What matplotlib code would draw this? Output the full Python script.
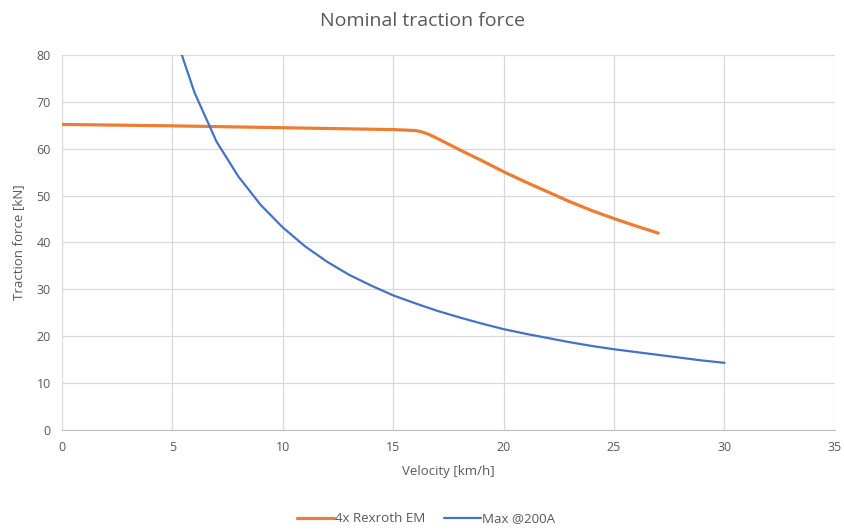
import numpy as np
import matplotlib
matplotlib.use('Agg')
import matplotlib.pyplot as plt

plt.rcParams['font.family'] = ['Open Sans', 'DejaVu Sans']

# 4x Rexroth EM (orange)
v_rexroth = [0, 5, 10, 15, 15.5, 16, 16.3, 16.6, 17, 18, 19, 20, 21, 22, 23, 24, 25, 26, 27]
f_rexroth = [65.2, 64.9, 64.5, 64.1, 64.0, 63.9, 63.6, 63.1, 62.2, 59.8, 57.5, 55.1,
             52.9, 50.8, 48.7, 46.8, 45.1, 43.5, 42.0]

# Max @200A (blue)
v_max = [5, 6, 7, 8, 9, 10, 11, 12, 13, 14, 15, 16, 17, 18, 19, 20, 21, 22, 23, 24,
         25, 26, 27, 28, 29, 30]
f_max = [86, 72, 61.5, 54, 48, 43.2, 39.2, 35.9, 33.1, 30.8, 28.7, 27.0, 25.4, 24.0,
         22.7, 21.5, 20.5, 19.6, 18.7, 17.9, 17.2, 16.6, 16.0, 15.4, 14.8, 14.3]

x_ticks = [0, 5, 10, 15, 20, 25, 30, 35]
y_ticks = [0, 10, 20, 30, 40, 50, 60, 70, 80]

txt = '#595959'

fig = plt.figure(figsize=(8.45, 5.3), dpi=100)
ax = fig.add_axes([0.0734, 0.189, 0.9146, 0.707])

ax.plot(v_rexroth, f_rexroth, color='#ED7D31', lw=2.3, label='4x Rexroth EM',
        solid_capstyle='round', solid_joinstyle='round')
ax.plot(v_max, f_max, color='#4472C4', lw=1.6, label='Max @200A',
        solid_capstyle='round', solid_joinstyle='round')

ax.set_xlim(0, 35)
ax.set_ylim(0, 80)
ax.set_xticks(x_ticks)
ax.set_yticks(y_ticks)
ax.grid(True, color='#d9d9d9', lw=0.9)
ax.set_axisbelow(True)
for s in ['top', 'right', 'left']:
    ax.spines[s].set_visible(False)
ax.spines['bottom'].set_color('#bfbfbf')
ax.tick_params(length=0, labelsize=9, colors=txt, pad=8)

ax.set_xlabel('Velocity [km/h]', fontsize=9.5, color=txt, labelpad=8)
ax.set_ylabel('Traction force [kN]', fontsize=9.5, color=txt, labelpad=8)
fig.suptitle('Nominal traction force', fontsize=14, color=txt, y=0.978)

leg = fig.legend(loc='lower center', bbox_to_anchor=(0.504, -0.014), ncol=2,
                 frameon=False, fontsize=9.6, handlelength=2.8, columnspacing=1.4,
                 handletextpad=0.05)
for t in leg.get_texts():
    t.set_color(txt)

fig.savefig('out.png', dpi=100)
